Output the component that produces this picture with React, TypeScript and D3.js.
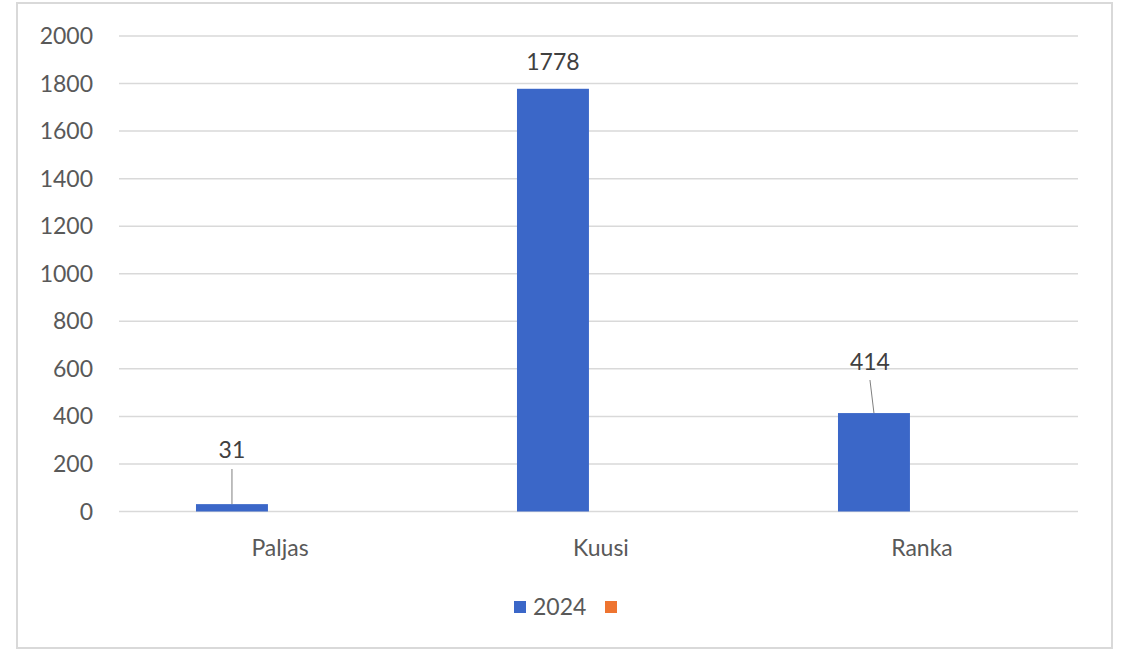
import React from "react";
import * as d3 from "d3";

const categories = ["Paljas", "Kuusi", "Ranka"];
const series = ["2024", ""];
const values2024 = [31, 1778, 414];
const yTicks = [0, 200, 400, 600, 800, 1000, 1200, 1400, 1600, 1800, 2000];
const colors = ["#3b67c8", "#ee7430"];

const W = 1124;
const H = 650;
const FONT = "Lato, 'Open Sans', sans-serif";
const FS = 23;

export default function App() {
  const plotLeft = 119;
  const plotRight = 1078;
  const y = d3.scaleLinear().domain([0, 2000]).range([511.5, 36]);
  const x0 = d3.scaleBand<string>().domain(categories).range([119.5, 1082.5]).padding(0);
  const x1 = d3
    .scaleBand<string>()
    .domain(series)
    .range([0, x0.bandwidth()])
    .paddingInner(0.251)
    .paddingOuter(0.796);

  const labelInfo = values2024.map((v, i) => {
    const cx = (x0(categories[i]) ?? 0) + (x1("2024") ?? 0) + x1.bandwidth() / 2;
    const top = y(v);
    return { v, cx, top };
  });

  return (
    <svg
      width={W}
      height={H}
      style={{ position: "fixed", left: 0, top: 0, background: "#fff" }}
      fontFamily={FONT}
    >
      <rect x={17} y={3} width={1095} height={645} fill="#fff" stroke="#d9d9d9" strokeWidth={2} />
      {yTicks.map((t) => (
        <g key={t}>
          <line x1={plotLeft} x2={plotRight} y1={y(t)} y2={y(t)} stroke="#d9d9d9" strokeWidth={1.5} />
          <text x={93} y={y(t)} dy="0.35em" textAnchor="end" fontSize={FS} fill="#595959">
            {t}
          </text>
        </g>
      ))}
      {values2024.map((v, i) => {
        const bx = (x0(categories[i]) ?? 0) + (x1("2024") ?? 0);
        return (
          <rect
            key={categories[i]}
            x={bx}
            y={y(v)}
            width={x1.bandwidth()}
            height={y(0) - y(v)}
            fill={colors[0]}
          />
        );
      })}
      {categories.map((c) => (
        <text
          key={c}
          x={(x0(c) ?? 0) + x0.bandwidth() / 2}
          y={548}
          dy="0.35em"
          textAnchor="middle"
          fontSize={FS}
          fill="#595959"
        >
          {c}
        </text>
      ))}
      <line x1={labelInfo[0].cx} x2={labelInfo[0].cx} y1={469} y2={labelInfo[0].top} stroke="#7f7f7f" strokeWidth={1} />
      <text x={labelInfo[0].cx} y={450} dy="0.35em" textAnchor="middle" fontSize={FS} fill="#404040">
        {labelInfo[0].v}
      </text>
      <text x={labelInfo[1].cx} y={62} dy="0.35em" textAnchor="middle" fontSize={FS} fill="#404040">
        {labelInfo[1].v}
      </text>
      <line x1={labelInfo[2].cx - 4} x2={labelInfo[2].cx} y1={380} y2={labelInfo[2].top} stroke="#7f7f7f" strokeWidth={1} />
      <text x={labelInfo[2].cx - 4} y={362} dy="0.35em" textAnchor="middle" fontSize={FS} fill="#404040">
        {labelInfo[2].v}
      </text>
      <rect x={514} y={601} width={12} height={12} fill={colors[0]} />
      <text x={533} y={607} dy="0.35em" fontSize={FS} fill="#595959">
        {series[0]}
      </text>
      <rect x={605} y={601} width={12} height={12} fill={colors[1]} />
    </svg>
  );
}
